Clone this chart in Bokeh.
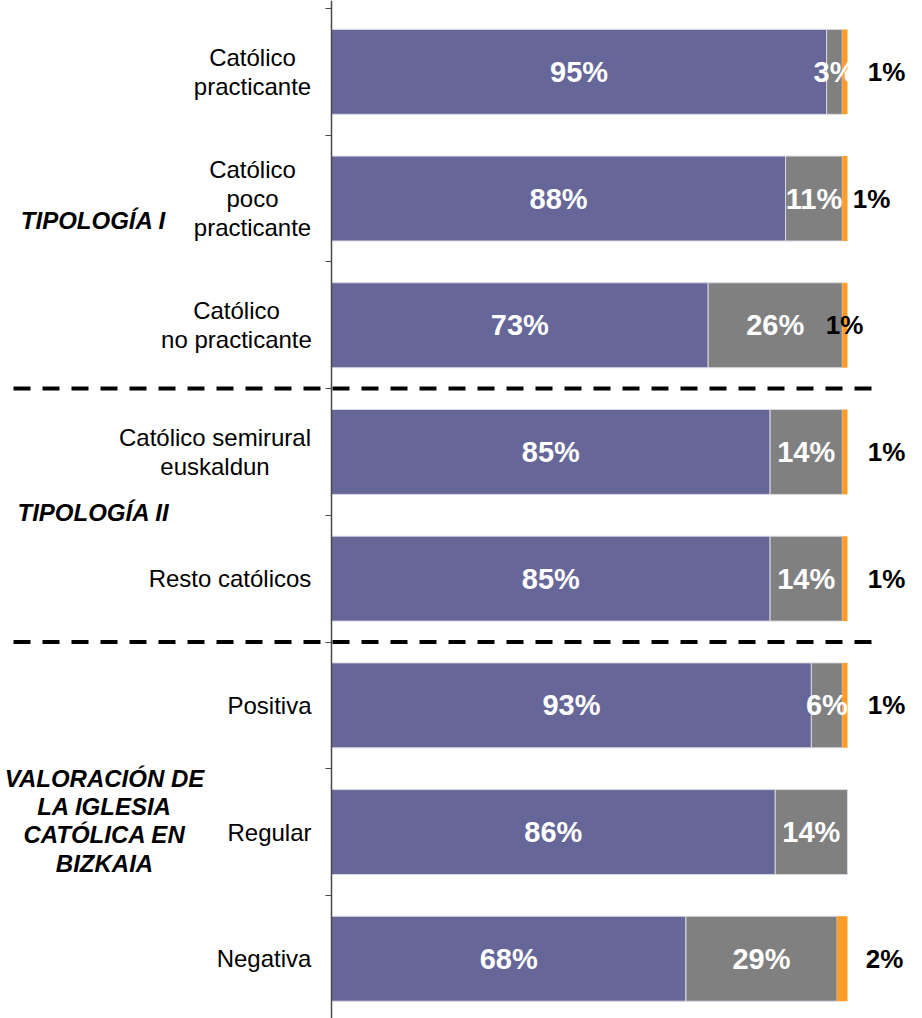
import numpy as np
from bokeh.plotting import figure
from bokeh.models import ColumnDataSource, Range1d, LinearAxis, FixedTicker
from bokeh.core.properties import value
from bokeh.embed import file_html
from bokeh.resources import INLINE

# ---------------- data ----------------
categories = [
    "Católico\npracticante",
    "Católico\npoco\npracticante",
    "Católico\nno practicante",
    "Católico semirural\neuskaldun",
    "Resto católicos",
    "Positiva",
    "Regular",
    "Negativa",
]
serie_1 = [95, 88, 73, 85, 85, 93, 86, 68]   # purple
serie_2 = [3, 11, 26, 14, 14, 6, 14, 29]     # grey
serie_3 = [1, 1, 1, 1, 1, 1, 0, 2]           # orange

groups = ["TIPOLOGÍA I", "TIPOLOGÍA II", "VALORACIÓN DE\nLA IGLESIA\nCATÓLICA EN\nBIZKAIA"]
group_members = [[0, 1, 2], [3, 4], [5, 6, 7]]

# ---------------- style / layout ----------------
FONT = value("Liberation Sans")
C_PURPLE, C_GREY, C_ORANGE = "#666699", "#808080", "#FF9C26"
FRAME_W, FRAME_H = 914, 1018
AXIS_PX = 331          # axis position inside the frame (px)
TOP_PX = 8             # first row boundary from the top (px)
PX_PER_UNIT = 5.16     # px per percentage point
ROW_PX = 126.7         # px per category row
BAR_H = 0.67
cat_label_dx = [-79, -79, -95, -116.5, -101.5, -62, -62, -67.5]
orange_label_dx = [39, 24, -3, 39, 39, 39, 0, 37]
group_dx = [-238, -238, -227]
group_dy = [22, -3, -11.5]
SEP_X0, SEP_X1 = (13 - AXIS_PX) / PX_PER_UNIT, (873 - AXIS_PX) / PX_PER_UNIT

n = len(categories)
y = np.array([n - 0.5 - i for i in range(n)])
v1, v2, v3 = (np.array(s, dtype=float) for s in (serie_1, serie_2, serie_3))
tot = v1 + v2 + v3
p1, p2, p3 = v1 / tot * 100, v2 / tot * 100, v3 / tot * 100
l1, r1 = np.zeros(n), p1
l2, r2 = r1, r1 + p2
l3, r3 = r2, r2 + p3

src = ColumnDataSource(dict(
    y=y, l1=l1, r1=r1, l2=l2, r2=r2, l3=l3, r3=r3,
    c1=(l1 + r1) / 2, c2=(l2 + r2) / 2,
    t1=[f"{v}%" for v in serie_1], t2=[f"{v}%" for v in serie_2],
    cat=categories, cat_dx=cat_label_dx,
))
osrc = ColumnDataSource(dict(
    y=[y[i] for i in range(n) if serie_3[i] > 0],
    x=[r3[i] for i in range(n) if serie_3[i] > 0],
    t=[f"{serie_3[i]}%" for i in range(n) if serie_3[i] > 0],
    dx=[orange_label_dx[i] for i in range(n) if serie_3[i] > 0],
))
gsrc = ColumnDataSource(dict(
    y=[float(np.mean([y[j] for j in m])) for m in group_members],
    t=groups, dx=group_dx, dy=group_dy,
))

x_range = Range1d(-AXIS_PX / PX_PER_UNIT, (FRAME_W - AXIS_PX) / PX_PER_UNIT)
y_top = n + TOP_PX / ROW_PX
y_range = Range1d(y_top - FRAME_H / ROW_PX, y_top)

p = figure(frame_width=FRAME_W, frame_height=FRAME_H, x_range=x_range, y_range=y_range,
           output_backend="svg", toolbar_location=None,
           x_axis_location=None, y_axis_location=None, min_border=0)
p.outline_line_color = None
p.grid.visible = False
p.background_fill_color = "white"
p.border_fill_color = "white"

# bars
edge = dict(line_color="#d8d8e4", line_width=1)
p.hbar(y="y", left="l1", right="r1", height=BAR_H, fill_color=C_PURPLE, source=src, **edge)
p.hbar(y="y", left="l2", right="r2", height=BAR_H, fill_color=C_GREY, source=src, **edge)
p.hbar(y="y", left="l3", right="r3", height=BAR_H, fill_color=C_ORANGE, source=src,
       line_color=None)

# value labels
lab = dict(text_font=FONT, text_font_style="bold", text_align="center", text_baseline="middle")
p.text(x="c1", y="y", text="t1", text_color="white", text_font_size="29px", source=src, **lab)
p.text(x="c2", y="y", text="t2", text_color="white", text_font_size="29px", source=src, **lab)
p.text(x="x", y="y", text="t", x_offset="dx", text_color="black", text_font_size="26px",
       source=osrc, **lab)

# category labels
p.text(x=0, y="y", text="cat", x_offset="cat_dx", source=src, text_font=FONT,
       text_font_size="24px", text_align="center", text_baseline="middle",
       text_line_height=1.08, text_color="black")

# group labels
p.text(x=0, y="y", text="t", x_offset="dx", y_offset="dy", source=gsrc, text_font=FONT,
       text_font_size="24px", text_font_style="bold italic", text_align="center",
       text_baseline="middle", text_line_height=1.05, text_color="black")

# group separators
sep_y = [n - len(group_members[0]), n - len(group_members[0]) - len(group_members[1])]
p.segment(x0=[SEP_X0] * 2, y0=sep_y, x1=[SEP_X1] * 2, y1=sep_y,
          line_color="black", line_width=4, line_dash="17 12")

# category axis (ticks at row boundaries)
ax = LinearAxis(ticker=FixedTicker(ticks=list(range(n + 1))), fixed_location=0)
ax.major_label_overrides = {i: "" for i in range(n + 1)}
ax.major_label_standoff = 0
ax.major_tick_in = 6
ax.major_tick_out = 0
ax.minor_tick_line_color = None
ax.axis_line_color = "#4a4a4a"
ax.axis_line_width = 1.5
ax.major_tick_line_color = "#4a4a4a"
ax.major_tick_line_width = 1
p.add_layout(ax, "right")

open("out.html", "w").write(file_html(p, INLINE))
